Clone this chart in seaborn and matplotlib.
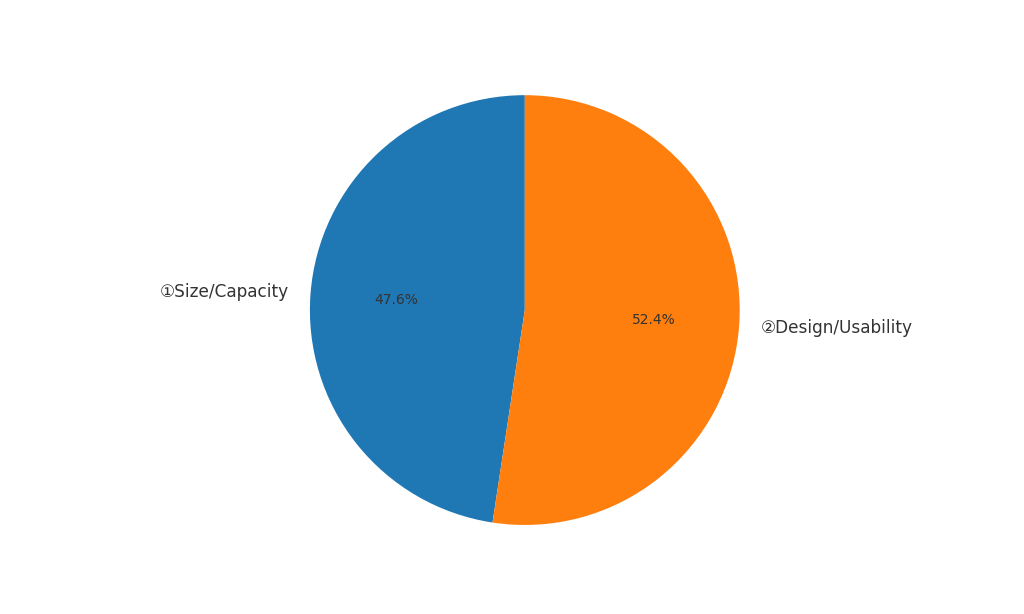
import matplotlib
matplotlib.use("Agg")
import matplotlib.pyplot as plt
import seaborn as sns

# ── Data ──────────────────────────────────────────────────────────────
labels = ["①Size/Capacity", "②Design/Usability"]
shares = [47.6, 52.4]

sns.set_theme(style="white")
plt.rcParams["font.family"] = ["DejaVu Sans", "Noto Sans CJK JP"]
colors = sns.color_palette("tab10", 2)

fig, ax = plt.subplots(figsize=(10.24, 6.14), dpi=100)
wedges, texts, autotexts = ax.pie(
    shares,
    labels=labels,
    colors=colors,
    autopct="%1.1f%%",
    startangle=90,
    wedgeprops={"linewidth": 0},
    textprops={"color": ".2"},
)
for t in texts:
    t.set_fontsize(12.2)
for t in autotexts:
    t.set_fontsize(10)
ax.axis("equal")

plt.savefig("out.png", dpi=100)
plt.close()
